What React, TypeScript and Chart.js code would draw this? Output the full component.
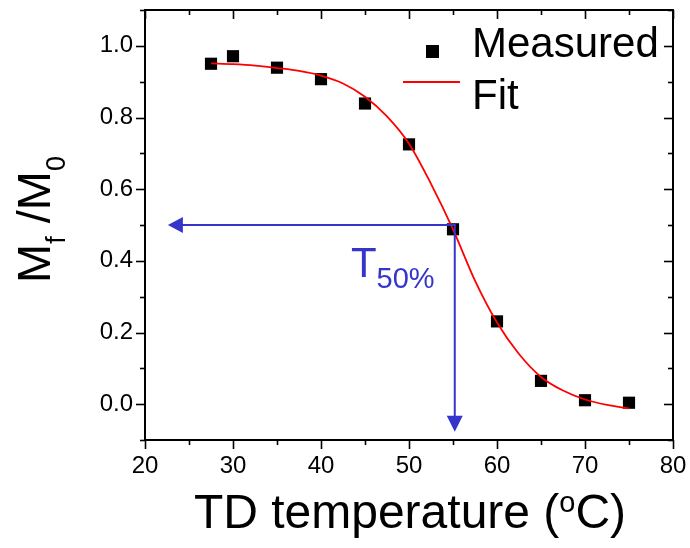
import React, { useEffect, useRef } from 'react';
import { Chart, registerables } from 'chart.js';

Chart.register(...registerables);

// ---- data ----
const MEAS_X = [27.5, 30, 35, 40, 45, 50, 55, 60, 65, 70, 75];
const MEAS_Y = [0.950, 0.971, 0.939, 0.907, 0.839, 0.725, 0.488, 0.231, 0.065, 0.011, 0.004];

const FIT_X = [27.5, 30, 32.5, 35, 37.5, 40, 42.5, 45, 47.5, 50, 52.5, 55, 57.5, 60, 62.5, 65, 67.5, 70, 72.5, 75];
const FIT_Y = [0.951, 0.949, 0.945, 0.938, 0.930, 0.917, 0.895, 0.858, 0.803, 0.727, 0.615, 0.488, 0.345, 0.228, 0.140, 0.076, 0.038, 0.013, -0.002, -0.012];

const X_MAJOR = [20, 30, 40, 50, 60, 70, 80];
const X_MINOR = [25, 35, 45, 55, 65, 75];
const Y_MAJOR = [0, 0.2, 0.4, 0.6, 0.8, 1.0];
const Y_MINOR = [-0.1, 0.1, 0.3, 0.5, 0.7, 0.9, 1.1];

const ARROW_START = [55.2, 0.5];
const ARROW_LEFT_END = [22.6, 0.5];
const ARROW_DOWN_END = [55.2, -0.077];
const T50_POS = [43.4, 0.354];
const T50_MAIN = 'T';
const T50_SUB = '50%';

const LEGEND_LABELS = ['Measured', 'Fit'];
const X_TITLE_PARTS = ['TD temperature (', 'o', 'C)'];
const Y_TITLE_PARTS: [string, boolean][] = [['M', false], ['f', true], [' /M', false], ['0', true]];

const FONT = '"Liberation Sans", Arial, Helvetica, sans-serif';
const BLUE = '#3535cc';
const RED = '#ff0000';

const overlay = {
  id: 'overlay',
  afterDraw(chart: any) {
    const { ctx, chartArea: a, scales } = chart;
    const xs = scales.x;
    const ys = scales.y;
    ctx.save();

    // frame top & right
    ctx.strokeStyle = '#000';
    ctx.lineWidth = 2;
    ctx.beginPath();
    ctx.moveTo(a.left, a.top);
    ctx.lineTo(a.right, a.top);
    ctx.lineTo(a.right, a.bottom);
    ctx.stroke();

    // ticks
    const seg = (x1: number, y1: number, x2: number, y2: number) => {
      ctx.beginPath();
      ctx.moveTo(x1, y1);
      ctx.lineTo(x2, y2);
      ctx.stroke();
    };
    ctx.lineWidth = 1.6;
    const xt = (vals: number[], len: number) => {
      vals.forEach((v) => {
        const p = Math.round(xs.getPixelForValue(v)) + 0.5;
        seg(p, a.bottom, p, a.bottom + len);
        seg(p, a.top, p, a.top + len);
      });
    };
    const yt = (vals: number[], len: number) => {
      vals.forEach((v) => {
        const p = Math.round(ys.getPixelForValue(v)) + 0.5;
        seg(a.left - len, p, a.left, p);
        seg(a.right - len, p, a.right, p);
      });
    };
    xt(X_MAJOR, 9);
    xt(X_MINOR, 5);
    yt(Y_MAJOR, 9);
    yt(Y_MINOR, 5);

    // arrows
    ctx.strokeStyle = BLUE;
    ctx.fillStyle = BLUE;
    ctx.lineWidth = 2;
    const sx = xs.getPixelForValue(ARROW_START[0]);
    const sy = ys.getPixelForValue(ARROW_START[1]);
    const lx = xs.getPixelForValue(ARROW_LEFT_END[0]);
    const dy = ys.getPixelForValue(ARROW_DOWN_END[1]);
    seg(sx + 1, sy, lx + 14, sy);
    ctx.beginPath();
    ctx.moveTo(lx, sy);
    ctx.lineTo(lx + 15, sy - 8);
    ctx.lineTo(lx + 15, sy + 8);
    ctx.closePath();
    ctx.fill();
    seg(sx, sy, sx, dy - 14);
    ctx.beginPath();
    ctx.moveTo(sx, dy);
    ctx.lineTo(sx - 8, dy - 16);
    ctx.lineTo(sx + 8, dy - 16);
    ctx.closePath();
    ctx.fill();

    // T50% label
    const tx = xs.getPixelForValue(T50_POS[0]);
    const ty = ys.getPixelForValue(T50_POS[1]);
    ctx.textBaseline = 'alphabetic';
    ctx.textAlign = 'left';
    ctx.font = `42px ${FONT}`;
    ctx.fillText(T50_MAIN, tx, ty);
    const tw = ctx.measureText(T50_MAIN).width;
    ctx.font = `29px ${FONT}`;
    ctx.fillText(T50_SUB, tx + tw, ty + 11);

    // legend
    ctx.fillStyle = '#000';
    ctx.fillRect(a.left + 281, a.top + 35, 13, 13);
    ctx.strokeStyle = RED;
    ctx.lineWidth = 2;
    seg(a.left + 258, a.top + 72, a.left + 315, a.top + 72);
    ctx.fillStyle = '#000';
    ctx.font = `42px ${FONT}`;
    ctx.fillText(LEGEND_LABELS[0], a.left + 327, a.top + 47);
    ctx.fillText(LEGEND_LABELS[1], a.left + 327, a.top + 99);

    // x title with superscript
    const big = `48px ${FONT}`;
    const small = `29px ${FONT}`;
    ctx.font = big;
    const w1 = ctx.measureText(X_TITLE_PARTS[0]).width;
    const w3 = ctx.measureText(X_TITLE_PARTS[2]).width;
    ctx.font = small;
    const w2 = ctx.measureText(X_TITLE_PARTS[1]).width;
    const cx = 410;
    let x0 = cx - (w1 + w2 + w3) / 2;
    const base = 528;
    ctx.font = big;
    ctx.fillText(X_TITLE_PARTS[0], x0, base);
    x0 += w1;
    ctx.font = small;
    ctx.fillText(X_TITLE_PARTS[1], x0, base - 16);
    x0 += w2;
    ctx.font = big;
    ctx.fillText(X_TITLE_PARTS[2], x0, base);

    // y title rotated with subscripts
    ctx.translate(50, 283);
    ctx.rotate(-Math.PI / 2);
    let p = 0;
    Y_TITLE_PARTS.forEach(([t, sub]) => {
      ctx.font = sub ? `27px ${FONT}` : `47px ${FONT}`;
      ctx.fillText(t, p, sub ? 15 : 0);
      p += ctx.measureText(t).width;
    });

    ctx.restore();
  },
};

export default function App() {
  const ref = useRef<HTMLCanvasElement | null>(null);
  useEffect(() => {
    if (!ref.current) return;
    const chart = new Chart(ref.current, {
      type: 'scatter',
      data: {
        datasets: [
          {
            label: LEGEND_LABELS[1],
            data: FIT_X.map((x, i) => ({ x, y: FIT_Y[i] })),
            showLine: true,
            borderColor: RED,
            borderWidth: 1.8,
            pointRadius: 0,
            cubicInterpolationMode: 'monotone',
            fill: false,
          },
          {
            label: LEGEND_LABELS[0],
            data: MEAS_X.map((x, i) => ({ x, y: MEAS_Y[i] })),
            showLine: false,
            pointStyle: 'rect',
            pointRadius: 8.6,
            backgroundColor: '#000',
            borderColor: '#000',
            borderWidth: 0,
          },
        ],
      } as any,
      options: {
        animation: false,
        responsive: false,
        maintainAspectRatio: false,
        layout: { padding: { top: 10, right: 17, left: 0, bottom: 0 } },
        plugins: { legend: { display: false }, tooltip: { enabled: false } },
        scales: {
          x: {
            type: 'linear',
            min: 20,
            max: 80,
            afterBuildTicks: (s: any) => {
              s.ticks = X_MAJOR.map((v) => ({ value: v }));
            },
            afterFit: (s: any) => {
              s.height = 108;
              s.paddingLeft = 0;
              s.paddingRight = 0;
            },
            grid: { display: true, drawOnChartArea: false, drawTicks: false },
            border: { display: true, color: '#000', width: 2 },
            ticks: {
              color: '#000',
              font: { family: FONT, size: 24 },
              padding: 12,
              maxRotation: 0,
              autoSkip: false,
              callback: (v: any) => String(v),
            },
          },
          y: {
            type: 'linear',
            min: -0.1,
            max: 1.1,
            afterBuildTicks: (s: any) => {
              s.ticks = Y_MAJOR.map((v) => ({ value: v }));
            },
            afterFit: (s: any) => {
              s.width = 145;
              s.paddingTop = 0;
              s.paddingBottom = 0;
            },
            grid: { display: true, drawOnChartArea: false, drawTicks: false },
            border: { display: true, color: '#000', width: 2 },
            ticks: {
              color: '#000',
              font: { family: FONT, size: 24 },
              padding: 12,
              autoSkip: false,
              callback: (v: any) => Number(v).toFixed(1),
            },
          },
        },
      } as any,
      plugins: [overlay],
    });
    return () => chart.destroy();
  }, []);
  return (
    <div style={{ position: 'absolute', left: 0, top: 0, width: 690, height: 548 }}>
      <canvas ref={ref} width={690} height={548} />
    </div>
  );
}
